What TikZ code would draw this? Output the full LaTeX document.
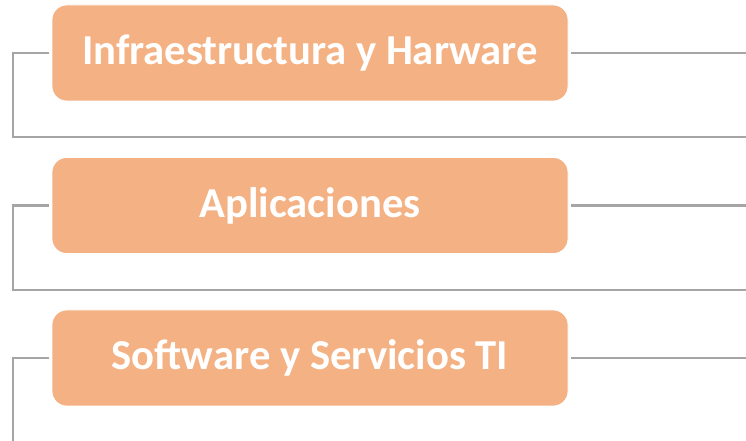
\documentclass[tikz,border=0pt]{standalone}
\usepackage{fontspec}
\setmainfont{Carlito}
\definecolor{boxfill}{HTML}{F4B183}
\definecolor{linegray}{HTML}{A5A5A5}
\begin{document}
\begin{tikzpicture}[x=0.75pt,y=-0.75pt,
  catbox/.style={rectangle, rounded corners=11pt, fill=boxfill, draw=white, line width=0.6pt,
    minimum width=516*0.75pt, minimum height=96*0.75pt, inner sep=0pt,
    text=white, font=\bfseries\fontsize{32}{38}\selectfont},
  conn/.style={draw=linegray, line width=1.6pt}]
\useasboundingbox (0,0) rectangle (746,441);
\node[catbox] (b1) at (310,53) {Infraestructura y Harware};
\node[catbox] (b2) at (310,205.5) {Aplicaciones};
\node[catbox] (b3) at (310,358) {Software y Servicios TI};
\coordinate (r1) at (746,53);
\coordinate (r2) at (746,205.5);
\coordinate (r3) at (746,358);
\coordinate (e1) at (746,137);
\coordinate (e2) at (746,290);
\coordinate (e3) at (13,441);
\draw[conn] ([xshift=-2.2pt]b1.west) -- (13,53) |- (e1);
\draw[conn] ([xshift=-2.2pt]b2.west) -- (13,205.5) |- (e2);
\draw[conn] ([xshift=-2.2pt]b3.west) -- (13,358) -- (e3);
\draw[conn] ([xshift=2.2pt]b1.east) -- (r1);
\draw[conn] ([xshift=2.2pt]b2.east) -- (r2);
\draw[conn] ([xshift=2.2pt]b3.east) -- (r3);
\end{tikzpicture}
\end{document}
